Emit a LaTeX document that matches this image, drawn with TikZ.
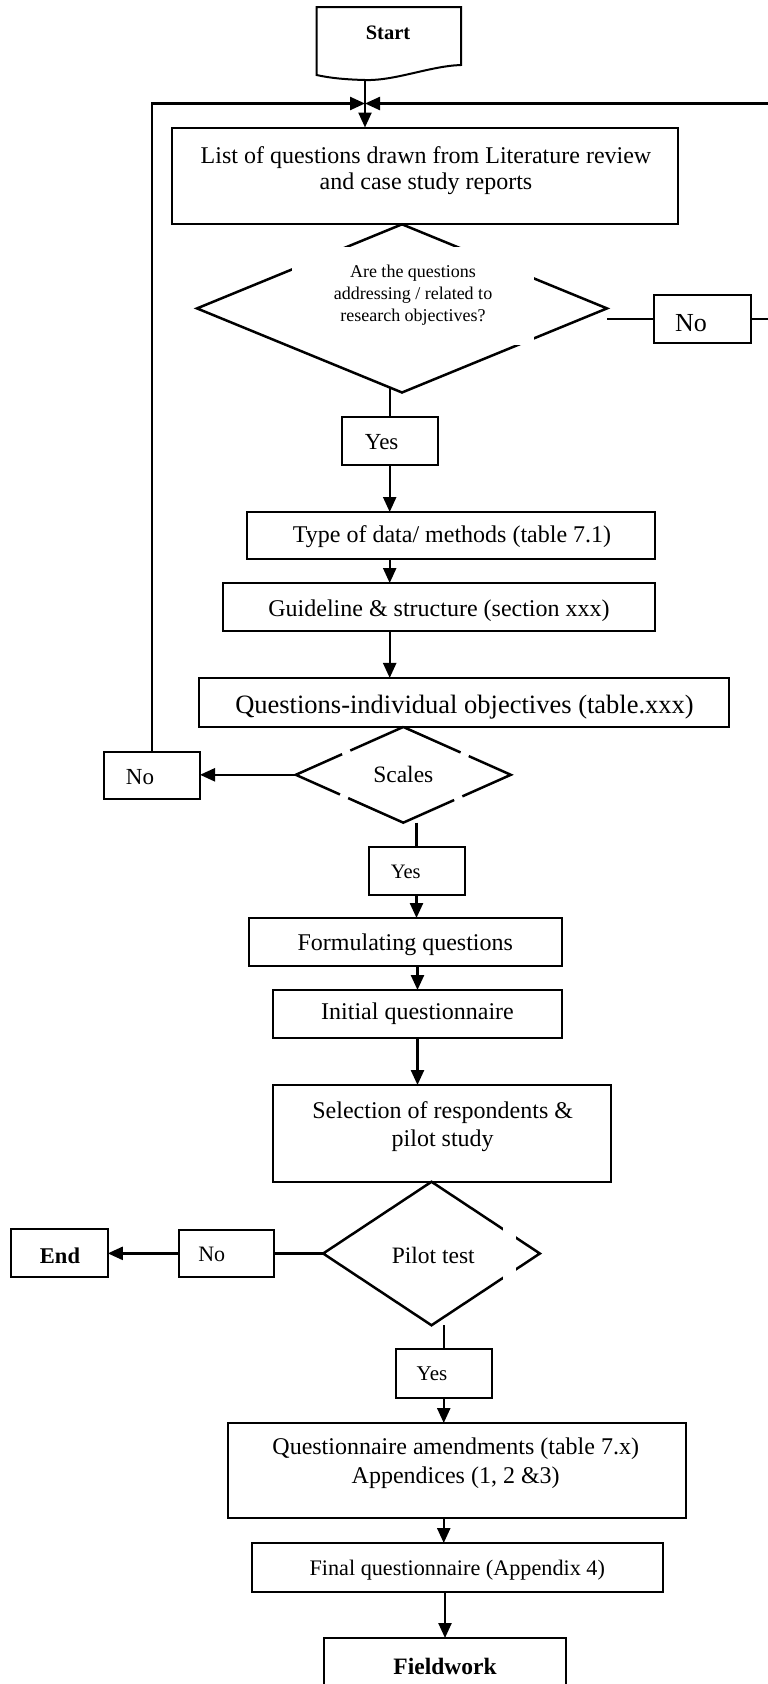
\documentclass[tikz,border=0pt]{standalone}
\usepackage{fontspec}
\setmainfont{Liberation Serif}
\usetikzlibrary{arrows.meta,shapes.geometric,calc}
\newcommand\fsz[2]{\fontsize{#1pt}{#2pt}\selectfont}

\begin{document}
\begin{tikzpicture}[x=1pt,y=-1pt,
  every node/.style={outer sep=0pt},
  box/.style={draw, line width=2pt, inner sep=0pt, font=\fsz{24}{28}},
  decision/.style={diamond, inner sep=0pt, line width=2.5pt},
  lbl/.style={inner sep=0pt, align=center},
  conn/.style={line width=2.4pt},
  arr/.style={conn, -{Triangle[length=15pt,width=13pt]}},
]
\path[use as bounding box] (0,0) rectangle (768,1684);
\clip (0,0) rectangle (768,1684);

% start terminal with wavy bottom edge
\node[lbl, font=\bfseries\fsz{20.5}{24}] (start) at (388,33) {Start};
\draw[line width=2pt] (316.5,75) -- (316.5,7) -- (461,7) -- (461,65)
  .. controls (430,66) and (395,81) .. (365,80)
  .. controls (345,79.5) and (330,78) .. (316.5,75) -- cycle;
\coordinate (sbot) at (365,80);
\coordinate (jn) at (365,103.5);
\draw[conn] (sbot) -- (jn);

% question list
\node[box, minimum width=506pt, minimum height=96.5pt,
  label={[lbl, font=\fsz{24}{26}, xshift=0.6pt, yshift=5.25pt]center:{List of questions drawn from Literature review\\and case study reports}}]
  (list) at (425.4,175.75) {};
\draw[arr] (jn) -- (jn |- list.north);

% first decision
\node[decision, draw, minimum width=410pt, minimum height=168.2pt] (q1) at (402,308.4) {};
\node[lbl, fill=white, minimum width=242pt, minimum height=98pt, font=\fsz{18}{22}] (q1t) at (413,295.5)
  {Are the questions\\addressing / related to\\research objectives?};

\node[box, minimum width=97pt, minimum height=48pt,
  label={[lbl, font=\fsz{26}{30}, xshift=-11.5pt, yshift=-4pt]center:No}] (noR) at (702.5,319.2) {};
\draw[conn] (q1.east |- noR.west) -- (noR.west);
\draw[arr] (noR.east) -- ++(40,0) |- (jn);

\node[box, minimum width=96pt, minimum height=48.3pt,
  label={[lbl, font=\fsz{23}{27}, xshift=-8pt, yshift=-1pt]center:Yes}] (yes1) at (389.7,440.85) {};
\coordinate (q1edge) at ($(q1.west)!0.94!(q1.south)$);
\draw[conn] (q1edge -| yes1.north) -- (yes1.north);

% design steps
\node[box, minimum width=408.5pt, minimum height=47pt,
  label={[lbl, font=\fsz{24}{28}, xshift=1.3pt, yshift=-1.5pt]center:Type of data/ methods (table 7.1)}]
  (type) at (450.75,535.5) {};
\draw[arr] (yes1.south) -- (yes1.south |- type.north);

\node[box, minimum width=432pt, minimum height=48pt,
  label={[lbl, font=\fsz{24}{28}, yshift=-3.5pt]center:Guideline \& structure (section xxx)}]
  (guide) at (439,607) {};
\draw[arr] (yes1.south |- type.south) -- (yes1.south |- guide.north);

\node[box, minimum width=530pt, minimum height=48.7pt,
  label={[lbl, font=\fsz{26.5}{30}, xshift=1pt, yshift=-5pt]center:Questions-individual objectives (table.xxx)}]
  (qind) at (463.5,702.3) {};
\draw[arr] (yes1.south |- guide.south) -- (yes1.south |- qind.north);

% scales decision (broken outline)
\node[decision, minimum width=215pt, minimum height=95.7pt, font=\fsz{23.5}{28}] (sc) at (403.3,774.8) {Scales};
\draw[line width=2.5pt, dash pattern=on 116pt off 9pt on 99pt off 9pt, dash phase=58pt]
  (sc.north) -- (sc.west) -- (sc.south) -- (sc.east) -- cycle;

\node[box, minimum width=96pt, minimum height=47.3pt,
  label={[lbl, font=\fsz{23}{27}, xshift=-12pt, yshift=-1.6pt]center:No}] (noL) at (152,775.35) {};
\draw[arr] (sc.west) -- (sc.west -| noL.east);
\draw[arr] (noL.north) |- (jn);

\node[box, minimum width=96pt, minimum height=48.3pt,
  label={[lbl, font=\fsz{20.5}{24}, xshift=-10.8pt, yshift=-1pt]center:Yes}] (yes2) at (416.5,870.85) {};
\draw[conn] (yes2.north |- sc.south) -- (yes2.north);

\node[box, minimum width=312.5pt, minimum height=48pt,
  label={[lbl, font=\fsz{24}{28}, yshift=-2.5pt]center:Formulating questions}]
  (form) at (405.25,942) {};
\draw[arr] (yes2.south) -- (yes2.south |- form.north);

\node[box, minimum width=289pt, minimum height=48pt] (init) at (417.5,1014) {Initial questionnaire};
\draw[arr] (init.north |- form.south) -- (init.north);

\node[box, minimum width=338pt, minimum height=96.7pt,
  label={[lbl, font=\fsz{24}{28.3}, xshift=0.7pt, yshift=7pt]center:{Selection of respondents \&\\pilot study}}]
  (sel) at (442,1133.35) {};
\draw[arr] (init.south) -- (init.south |- sel.north);

% pilot decision
\node[decision, draw, minimum width=216.7pt, minimum height=143.5pt,
  label={[lbl, font=\fsz{23.5}{28}, xshift=1.8pt, yshift=-2pt]center:Pilot test}] (pilot) at (431.5,1253.5) {};
\fill[white] (503,1222) rectangle (515.5,1284);

\node[box, minimum width=95.4pt, minimum height=46.7pt,
  label={[lbl, font=\fsz{22}{26}, xshift=-15pt, yshift=-0.6pt]center:No}] (noB) at (226.7,1253.35) {};
\draw[conn] (pilot.west) -- (pilot.west -| noB.east);

\node[box, minimum width=97pt, minimum height=48pt,
  label={[lbl, font=\bfseries\fsz{22.5}{26}, xshift=0.7pt, yshift=-2.7pt]center:End}] (end) at (59.3,1253) {};
\draw[arr] (noB.west) -- (noB.west -| end.east);

\node[box, minimum width=95.5pt, minimum height=48.7pt,
  label={[lbl, font=\fsz{21}{25}, xshift=-11.75pt, yshift=-0.6pt]center:Yes}] (yes3) at (443.75,1373.35) {};
\draw[conn] (yes3.north |- pilot.south) -- (yes3.north);

% final steps
\node[box, minimum width=458pt, minimum height=95pt,
  label={[lbl, font=\fsz{24}{28.7}, xshift=-1.3pt, yshift=7.6pt]center:{Questionnaire amendments (table 7.x)\\Appendices (1, 2 \&3)}}]
  (amend) at (457,1470.5) {};
\draw[arr] (yes3.south) -- (yes3.south |- amend.north);

\node[box, minimum width=410.5pt, minimum height=48.7pt,
  label={[lbl, font=\fsz{22.2}{26}, yshift=-3pt]center:Final questionnaire (Appendix 4)}]
  (final) at (457.25,1567.35) {};
\draw[arr] (yes3.south |- amend.south) -- (yes3.south |- final.north);

\node[box, minimum width=242pt, minimum height=57.4pt, font=\bfseries\fsz{23.5}{28}] (field) at (445,1666.7) {Fieldwork};
\draw[arr] (field.north |- final.south) -- (field.north);
\end{tikzpicture}
\end{document}
